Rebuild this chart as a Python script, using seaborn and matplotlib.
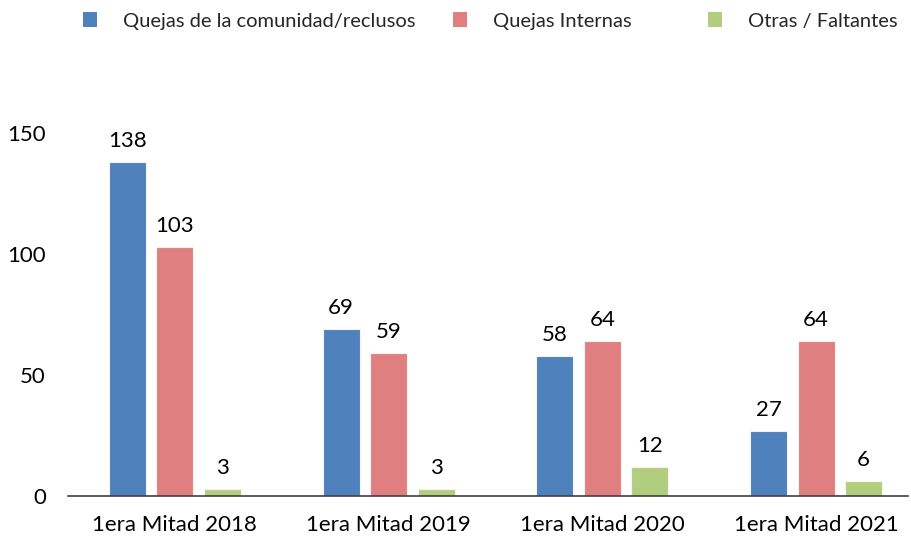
import matplotlib
matplotlib.use("Agg")
import matplotlib.pyplot as plt
from matplotlib.patches import Patch
import seaborn as sns
import pandas as pd

categories = ["1era Mitad 2018", "1era Mitad 2019", "1era Mitad 2020", "1era Mitad 2021"]
series_names = ["Quejas de la comunidad/reclusos", "Quejas Internas", "Otras / Faltantes"]
comunidad = [138, 69, 58, 27]
internas = [103, 59, 64, 64]
otras = [3, 3, 12, 6]
colors = ["#4F81BD", "#E07F7F", "#B3CD7F"]

rows = []
for name, vals in zip(series_names, [comunidad, internas, otras]):
    for cat, v in zip(categories, vals):
        rows.append({"cat": cat, "serie": name, "valor": v})
df = pd.DataFrame(rows)

sns.set_style("white")
plt.rcParams["font.family"] = ["Lato", "DejaVu Sans"]

fig = plt.figure(figsize=(9.11, 5.40), dpi=100)
ax = fig.add_axes([68/911, 44/540, 840/911, 387/540])

sns.barplot(data=df, x="cat", y="valor", hue="serie", order=categories,
            hue_order=series_names, palette=colors, saturation=1, width=0.666, gap=0.22,
            edgecolor="#f4f4f4", linewidth=0.8, legend=False, ax=ax)

for c in ax.containers:
    ax.bar_label(c, fmt="%d", padding=8, fontsize=16, color="#000000")

ax.set_ylim(0, 160)
ax.set_xlim(-0.5, 3.43)
ax.set_yticks([0, 50, 100, 150])
ax.set_xlabel("")
ax.set_ylabel("")
for s in ["top", "right", "left"]:
    ax.spines[s].set_visible(False)
ax.spines["bottom"].set_color("#404040")
ax.spines["bottom"].set_linewidth(1.2)
ax.tick_params(axis="y", length=0, pad=16, labelsize=16, colors="#000000")
ax.tick_params(axis="x", length=0, pad=14, labelsize=16, colors="#000000")

legend_x = [83/911, 453/911, 708/911]
for name, col, lx in zip(series_names, colors, legend_x):
    fig.legend(handles=[Patch(facecolor=col, edgecolor="none")], labels=[name],
               loc="center left", bbox_to_anchor=(lx, 1 - 21/540), frameon=False,
               handlelength=0.7, handleheight=0.7, handletextpad=1.3,
               fontsize=14.5, borderpad=0, borderaxespad=0)

fig.savefig("out.png", dpi=100)
